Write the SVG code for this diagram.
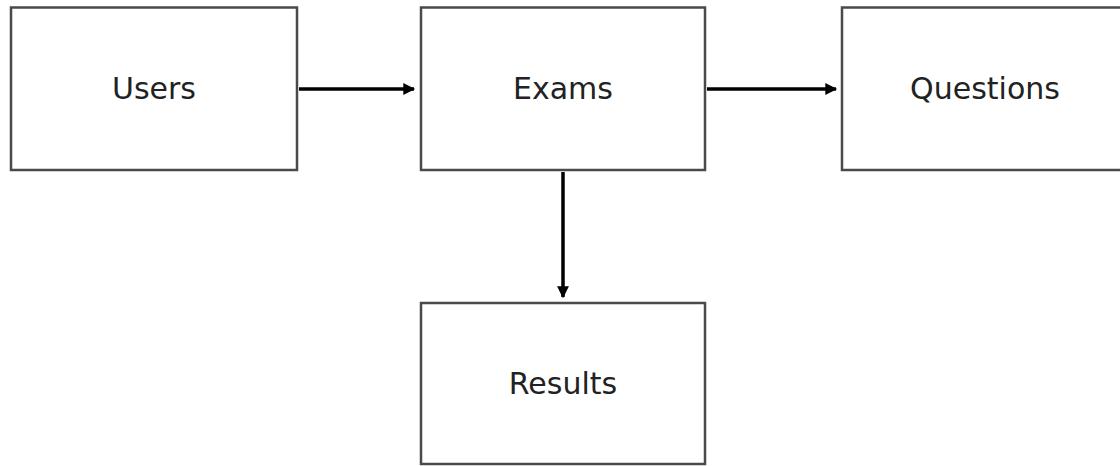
<svg xmlns="http://www.w3.org/2000/svg" width="1120" height="466" viewBox="0 0 1120 466">
<style>
.box{fill:#fff;stroke:#4a4a4a;stroke-width:2.5}
.lbl{font-family:"DejaVu Sans",sans-serif;font-size:30px;fill:#222;text-anchor:middle}
.edge{stroke:#000;stroke-width:3.5;fill:none}
</style>
<defs>
<marker id="ah" viewBox="0 0 10 10" refX="9" refY="5" markerWidth="3.6" markerHeight="3.4" orient="auto" markerUnits="strokeWidth">
<path d="M0,0 L10,5 L0,10 Z" fill="#000"/>
</marker>
</defs>
<rect width="1120" height="466" fill="#fff"/>
<g id="users"><rect class="box" x="11" y="7.5" width="286" height="162.5"/><text class="lbl" x="154" y="99">Users</text></g>
<g id="exams"><rect class="box" x="421" y="7.5" width="284" height="162.5"/><text class="lbl" x="563" y="99">Exams</text></g>
<g id="questions"><rect class="box" x="842" y="7.5" width="286" height="162.5"/><text class="lbl" x="985" y="99">Questions</text></g>
<g id="results"><rect class="box" x="421" y="303" width="284" height="161"/><text class="lbl" x="563" y="394">Results</text></g>
<g id="connectors">
<line class="edge" x1="299" y1="89" x2="414" y2="89" marker-end="url(#ah)"/>
<line class="edge" x1="707" y1="89" x2="836" y2="89" marker-end="url(#ah)"/>
<line class="edge" x1="563" y1="172" x2="563" y2="297" marker-end="url(#ah)"/>
</g>
</svg>
